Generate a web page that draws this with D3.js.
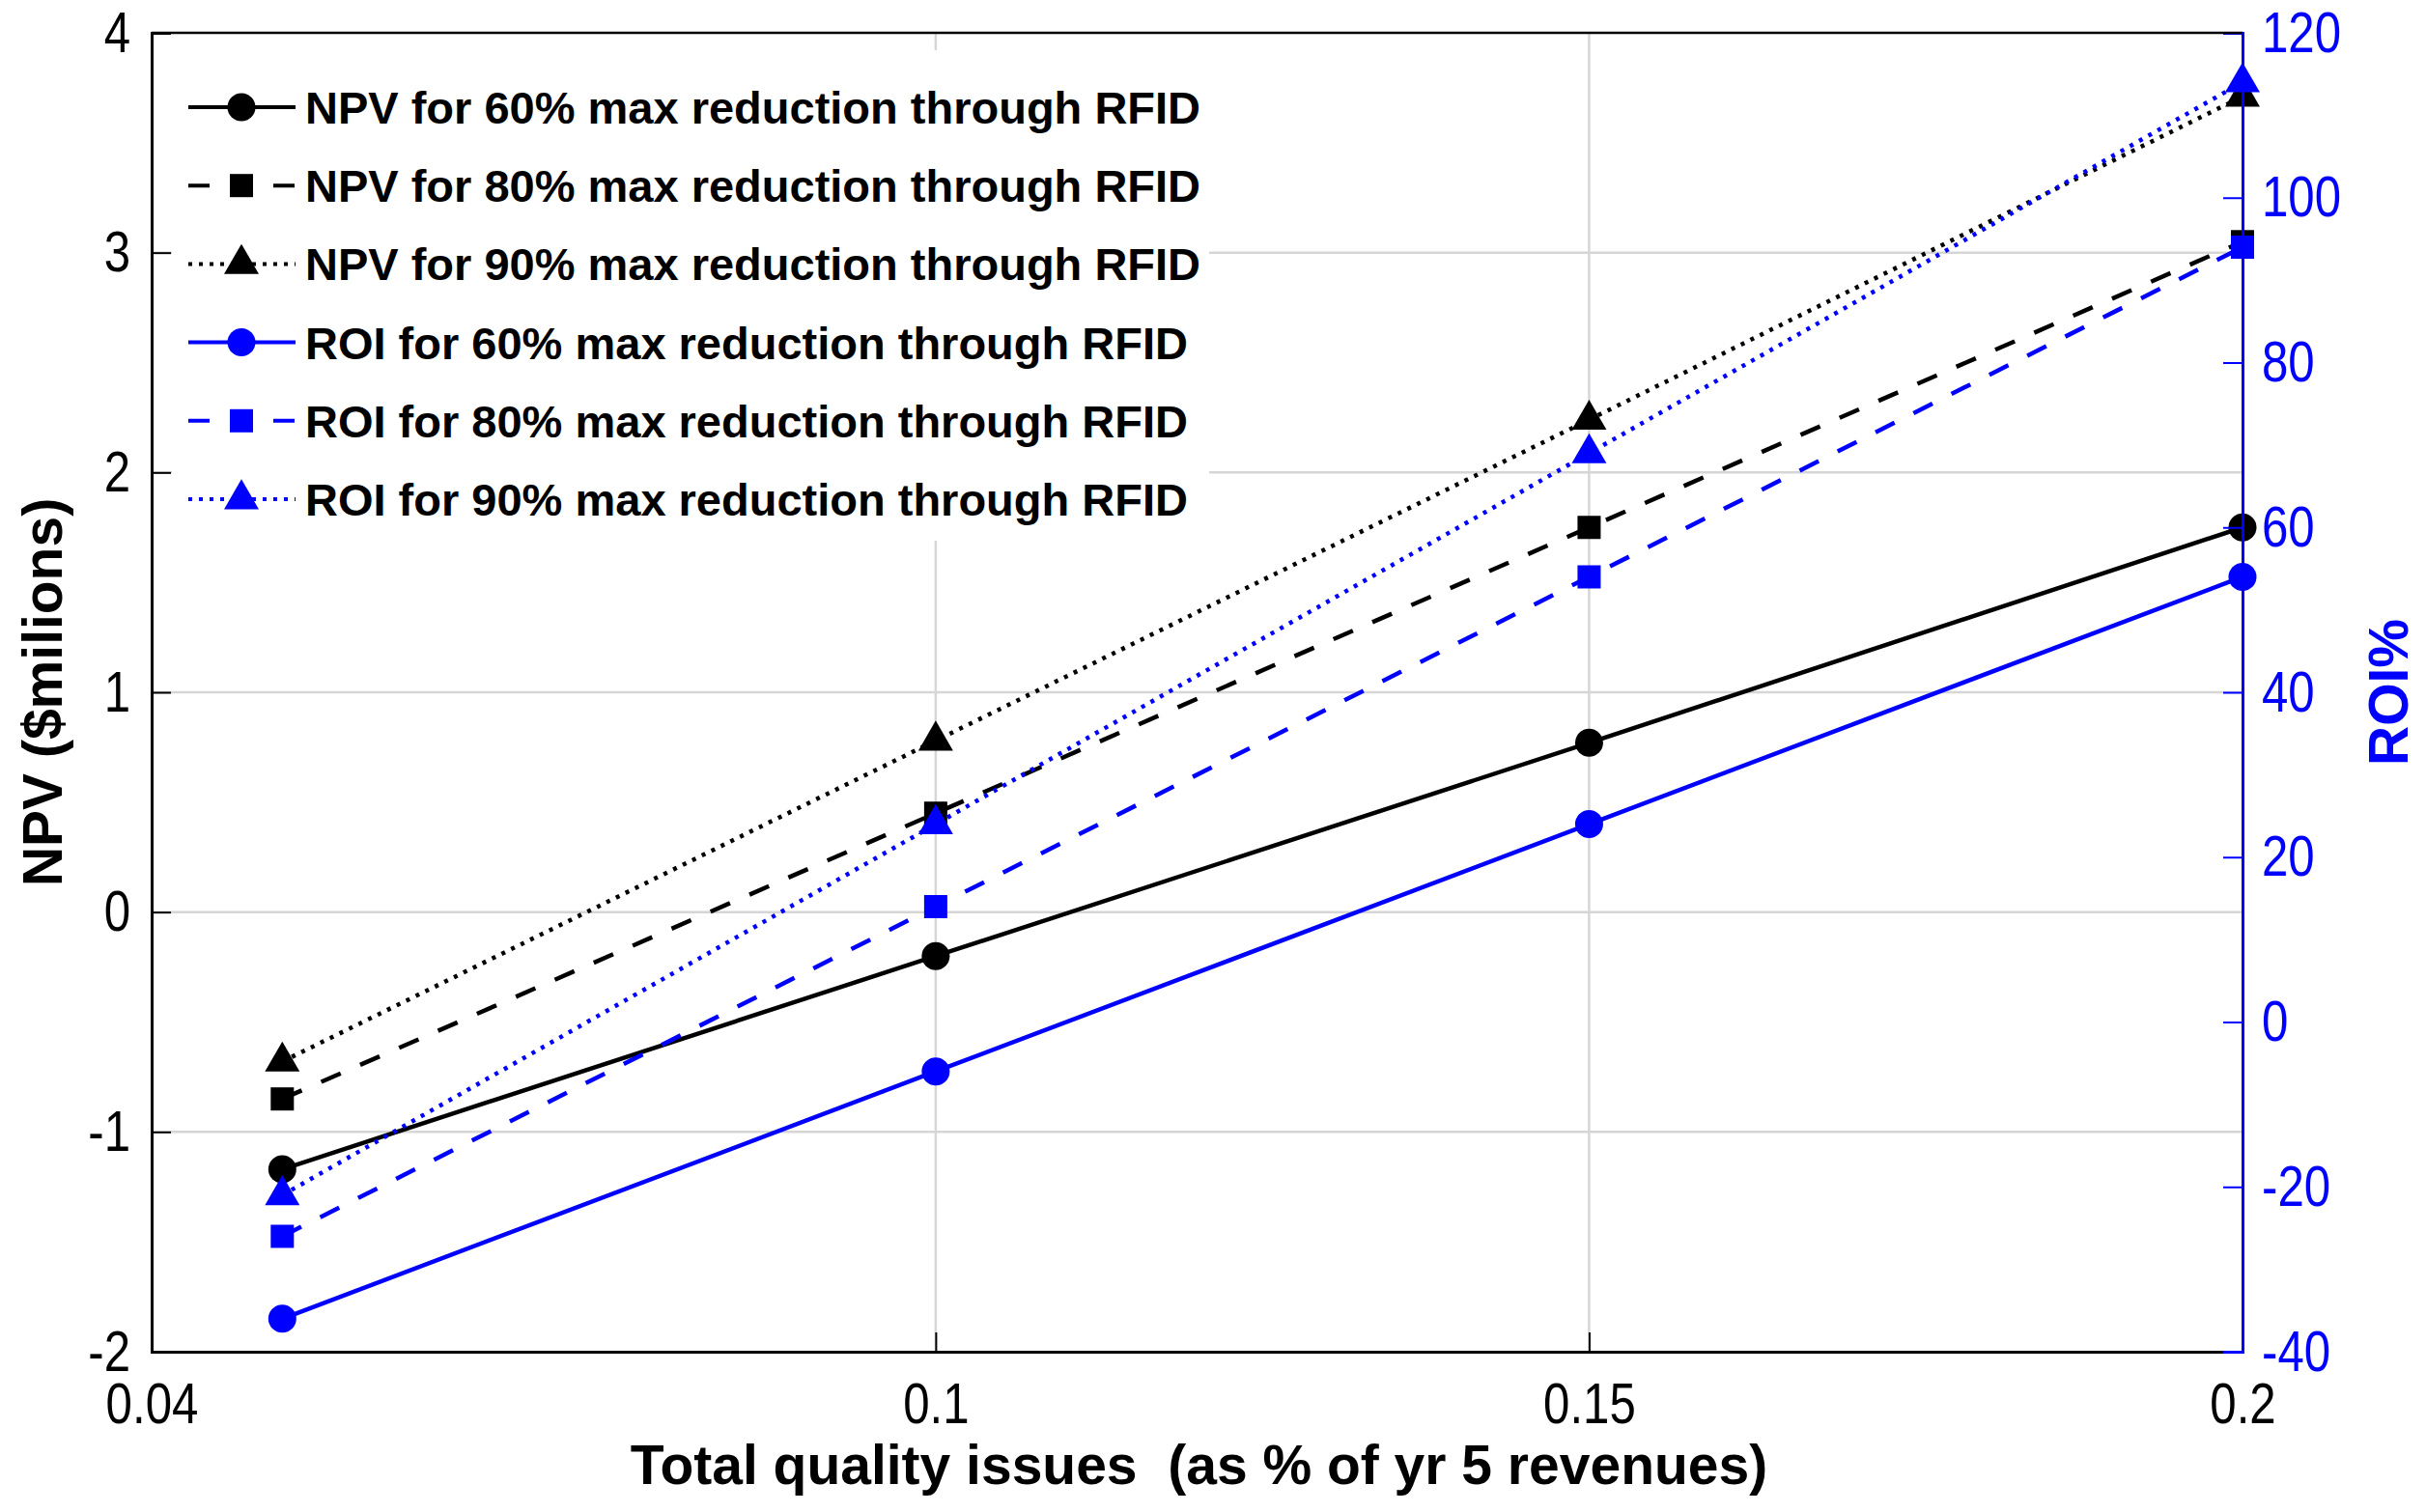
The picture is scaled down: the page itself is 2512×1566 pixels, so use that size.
<!DOCTYPE html>
<html>
<head>
<meta charset="utf-8">
<script src="https://cdn.jsdelivr.net/npm/d3@7"></script>
<style>
  html, body { margin: 0; padding: 0; background: #fff; }
  svg { display: block; }
  text { font-family: "Liberation Sans", Arial, "DejaVu Sans", sans-serif; }
</style>
</head>
<body>
<svg id="chart" width="2512" height="1566"></svg>
<script>
// ---- data ----
const xValues = [0.05, 0.10, 0.15, 0.20];
const npv60 = [-1.17, -0.20, 0.77, 1.75];
const npv80 = [-0.85, 0.45, 1.75, 3.05];
const npv90 = [-0.68, 0.78, 2.24, 3.71];
const roi60 = [-36, -6, 24, 54];
const roi80 = [-26, 14, 54, 94];
const roi90 = [-21, 24, 69, 114];
const xTicks = [0.04, 0.1, 0.15, 0.2];
const npvTicks = [-2, -1, 0, 1, 2, 3, 4];
const roiTicks = [-40, -20, 0, 20, 40, 60, 80, 100, 120];
const seriesNames = [
  "NPV for 60% max reduction through RFID",
  "NPV for 80% max reduction through RFID",
  "NPV for 90% max reduction through RFID",
  "ROI for 60% max reduction through RFID",
  "ROI for 80% max reduction through RFID",
  "ROI for 90% max reduction through RFID"
];
const xTitle = "Total quality issues  (as % of yr 5 revenues)";
const yLeftTitle = "NPV ($milions)";
const yRightTitle = "ROI%";

// ---- layout ----
const L = 157, R = 2322, T = 34, B = 1400;
const BLUE = "#0000ff";
const NARROW = 0.82;
const svg = d3.select("#chart");

const x = d3.scaleLinear().domain([0.04, 0.2]).range([L, R]);
const yL = d3.scaleLinear().domain([-2, 4]).range([B, T]);
const yR = d3.scaleLinear().domain([-40, 120]).range([B, T]);

// gridlines
const grid = svg.append("g").attr("stroke", "#d6d6d6").attr("stroke-width", 2.5);
grid.selectAll("line.h").data(npvTicks.filter(d => d > -2 && d < 4)).join("line")
  .attr("x1", L).attr("x2", R).attr("y1", d => yL(d)).attr("y2", d => yL(d));
grid.selectAll("line.v").data(xTicks.filter(d => d > 0.04 && d < 0.2)).join("line")
  .attr("y1", T).attr("y2", B).attr("x1", d => x(d)).attr("x2", d => x(d));

// series definitions
const series = [
  {name: seriesNames[0], vals: npv60, y: yL, color: "#000", dash: null, marker: "circle"},
  {name: seriesNames[1], vals: npv80, y: yL, color: "#000", dash: "22,22", marker: "square"},
  {name: seriesNames[2], vals: npv90, y: yL, color: "#000", dash: "4,7", marker: "triangle"},
  {name: seriesNames[3], vals: roi60, y: yR, color: BLUE, dash: null, marker: "circle"},
  {name: seriesNames[4], vals: roi80, y: yR, color: BLUE, dash: "22,22", marker: "square"},
  {name: seriesNames[5], vals: roi90, y: yR, color: BLUE, dash: "4,7", marker: "triangle"}
];

const symbolOf = {
  circle: d3.symbol().type(d3.symbolCircle).size(Math.PI * 14.5 * 14.5),
  square: d3.symbol().type(d3.symbolSquare).size(24 * 24),
  triangle: d3.symbol().type(d3.symbolTriangle).size(560)
};

const line = (ys) => d3.line().x(d => x(d[0])).y(d => ys(d[1]));

series.forEach(s => {
  const pts = xValues.map((xv, i) => [xv, s.vals[i]]);
  svg.append("path").datum(pts)
    .attr("d", line(s.y))
    .attr("fill", "none").attr("stroke", s.color).attr("stroke-width", 4.5)
    .attr("stroke-dasharray", s.dash);
  svg.append("g").selectAll("path").data(pts).join("path")
    .attr("transform", d => `translate(${x(d[0])},${s.y(d[1])})`)
    .attr("d", symbolOf[s.marker]())
    .attr("fill", s.color);
});

// axes
const fmt = d => String(d);
const axL = svg.append("g").attr("transform", `translate(${L},0)`)
  .call(d3.axisLeft(yL).tickValues(npvTicks).tickSize(-20).tickPadding(22).tickFormat(fmt));
const axB = svg.append("g").attr("transform", `translate(0,${B})`)
  .call(d3.axisBottom(x).tickValues(xTicks).tickSize(-20).tickPadding(31).tickFormat(fmt));
const axR = svg.append("g").attr("transform", `translate(${R},0)`)
  .call(d3.axisRight(yR).tickValues(roiTicks).tickSize(-20).tickPadding(20).tickFormat(fmt));

function narrowText(sel, color) {
  sel.selectAll(".tick text").each(function() {
    const t = d3.select(this);
    const xv = +t.attr("x") || 0;
    t.attr("x", xv / NARROW).attr("transform", `scale(${NARROW},1)`);
  }).attr("fill", color).attr("font-size", 60)
    .style("font-family", '"Liberation Sans", Arial, sans-serif');
}

[axL, axB].forEach(a => {
  a.selectAll("path.domain").attr("stroke", "#000").attr("stroke-width", 3);
  a.selectAll(".tick line").attr("stroke", "#000").attr("stroke-width", 2);
  narrowText(a, "#000");
});
axR.selectAll("path.domain").attr("stroke", BLUE).attr("stroke-width", 3);
axR.selectAll(".tick line").attr("stroke", BLUE).attr("stroke-width", 2);
narrowText(axR, BLUE);

// top border
svg.append("line").attr("x1", L).attr("x2", R).attr("y1", T).attr("y2", T)
  .attr("stroke", "#000").attr("stroke-width", 2.5);

// titles
svg.append("text").attr("x", (L + R) / 2 + 2).attr("y", 1537)
  .attr("text-anchor", "middle").attr("font-size", 57).attr("font-weight", "bold")
  .attr("fill", "#000").style("white-space", "pre").text(xTitle);
svg.append("text").attr("transform", `translate(64,${(T + B) / 2}) rotate(-90)`)
  .attr("text-anchor", "middle").attr("font-size", 57).attr("font-weight", "bold")
  .attr("fill", "#000").text(yLeftTitle);
svg.append("text").attr("transform", `translate(2493,${(T + B) / 2}) rotate(-90)`)
  .attr("text-anchor", "middle").attr("font-size", 57).attr("font-weight", "bold")
  .attr("fill", BLUE).text(yRightTitle);

// legend
const leg = svg.append("g");
leg.append("rect").attr("x", 178).attr("y", 52).attr("width", 1252 - 178).attr("height", 560 - 52)
  .attr("fill", "#fff");
const rowY0 = 111, rowStep = 81.2;
series.forEach((s, i) => {
  const cy = rowY0 + i * rowStep;
  leg.append("line").attr("x1", 195).attr("x2", 306).attr("y1", cy).attr("y2", cy)
    .attr("stroke", s.color).attr("stroke-width", 4).attr("stroke-dasharray", s.dash);
  leg.append("path").attr("transform", `translate(250,${cy})`)
    .attr("d", symbolOf[s.marker]()).attr("fill", s.color);
  leg.append("text").attr("x", 316).attr("y", cy + 17)
    .attr("font-size", 47).attr("font-weight", "bold").attr("fill", "#000")
    .text(s.name);
});
</script>
</body>
</html>
